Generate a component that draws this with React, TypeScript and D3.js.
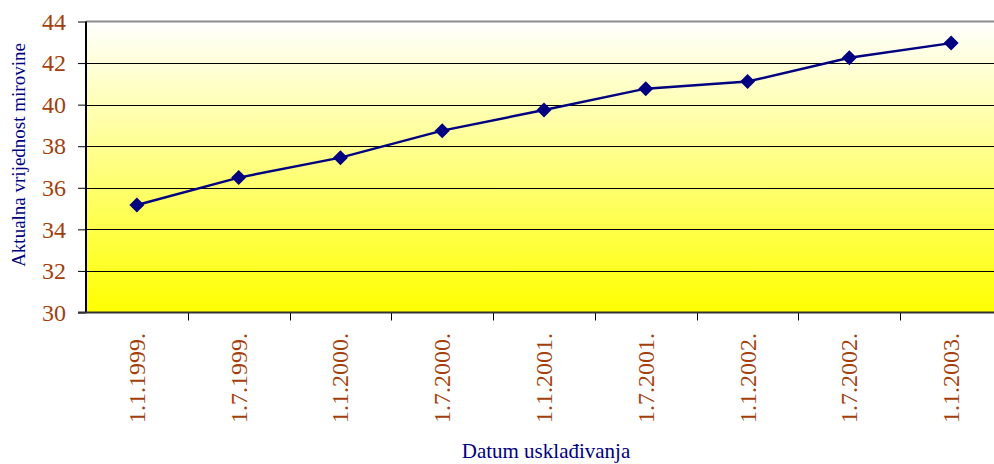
import React, { useEffect, useRef } from 'react';
import * as d3 from 'd3';

// Chart data
const dates = ['1.1.1999.', '1.7.1999.', '1.1.2000.', '1.7.2000.', '1.1.2001.', '1.7.2001.', '1.1.2002.', '1.7.2002.', '1.1.2003.'];
const pensionValues = [35.17, 36.49, 37.45, 38.75, 39.74, 40.77, 41.11, 42.26, 42.96];
const yTicks = [30, 32, 34, 36, 38, 40, 42, 44];

const W = 994;
const H = 464;
const serif = '"Liberation Serif", "Times New Roman", serif';

export default function App() {
  const ref = useRef<SVGSVGElement>(null);

  useEffect(() => {
    const svg = d3.select(ref.current);
    svg.selectAll('*').remove();

    // Plot area (runs past the right edge, like the original)
    const left = 86;
    const right = 1002;
    const top = 21.5;
    const bottom = 312.5;

    const x = d3.scaleBand().domain(dates).range([left, right]);
    const y = d3.scaleLinear().domain([30, 44]).range([bottom, top]);

    // Background gradient
    const grad = svg
      .append('defs')
      .append('linearGradient')
      .attr('id', 'bg')
      .attr('x1', 0)
      .attr('y1', 0)
      .attr('x2', 0)
      .attr('y2', 1);
    grad.append('stop').attr('offset', '0%').attr('stop-color', '#ffffff');
    grad.append('stop').attr('offset', '100%').attr('stop-color', '#ffff00');

    svg
      .append('rect')
      .attr('x', left)
      .attr('y', top)
      .attr('width', right - left)
      .attr('height', bottom - top)
      .attr('fill', 'url(#bg)');

    // Gridlines
    svg
      .append('g')
      .selectAll('line')
      .data(yTicks.filter(d => d > 30 && d < 44))
      .enter()
      .append('line')
      .attr('x1', left)
      .attr('x2', right)
      .attr('y1', d => Math.round(y(d)) + 0.5)
      .attr('y2', d => Math.round(y(d)) + 0.5)
      .attr('stroke', '#000')
      .attr('stroke-width', 1);

    // Top border
    svg
      .append('line')
      .attr('x1', left)
      .attr('x2', right)
      .attr('y1', y(44))
      .attr('y2', y(44))
      .attr('stroke', '#8c8c8c')
      .attr('stroke-width', 2);

    // Y axis
    const yAxis = svg
      .append('g')
      .attr('transform', `translate(${left},0)`)
      .call(d3.axisLeft(y).tickValues(yTicks).tickSize(8).tickPadding(12).tickFormat(d3.format('d')));
    yAxis.select('.domain').remove();
    yAxis.selectAll('line').attr('stroke', '#000');
    yAxis
      .selectAll('text')
      .attr('fill', '#a33f0c')
      .attr('font-family', serif)
      .attr('font-size', 24)
      .style('font-family', serif)
      .style('font-size', '24px');
    svg
      .append('line')
      .attr('x1', left)
      .attr('x2', left)
      .attr('y1', top)
      .attr('y2', bottom)
      .attr('stroke', '#000')
      .attr('stroke-width', 2);

    // X axis
    const ticksX = d3.range(dates.length + 1).map(i => left + i * x.step());
    svg
      .append('g')
      .selectAll('line')
      .data(ticksX.slice(1))
      .enter()
      .append('line')
      .attr('x1', d => Math.round(d) + 0.5)
      .attr('x2', d => Math.round(d) + 0.5)
      .attr('y1', bottom)
      .attr('y2', bottom + 8)
      .attr('stroke', '#000');
    svg
      .append('line')
      .attr('x1', left - 8)
      .attr('x2', right)
      .attr('y1', bottom)
      .attr('y2', bottom)
      .attr('stroke', '#333')
      .attr('stroke-width', 2);

    svg
      .append('g')
      .selectAll('text')
      .data(dates)
      .enter()
      .append('text')
      .attr('transform', d => `translate(${x(d)! + x.bandwidth() / 2 + 8},333) rotate(-90)`)
      .attr('text-anchor', 'end')
      .attr('fill', '#a33f0c')
      .style('font-family', serif)
      .style('font-size', '24px')
      .text(d => d);

    // Line and markers
    const pts = dates.map((d, i) => [x(d)! + x.bandwidth() / 2, y(pensionValues[i])] as [number, number]);
    svg
      .append('path')
      .datum(pts)
      .attr('d', d3.line())
      .attr('fill', 'none')
      .attr('stroke', '#000080')
      .attr('stroke-width', 2.5);

    svg
      .append('g')
      .selectAll('path')
      .data(pts)
      .enter()
      .append('path')
      .attr('transform', d => `translate(${d[0]},${d[1]})`)
      .attr('d', 'M0,-7.5L7.5,0L0,7.5L-7.5,0Z')
      .attr('fill', '#000080');

    // Axis titles
    svg
      .append('text')
      .attr('transform', `translate(25,155) rotate(-90)`)
      .attr('text-anchor', 'middle')
      .attr('fill', '#000080')
      .style('font-family', serif)
      .style('font-size', '19px')
      .text('Aktualna vrijednost mirovine');

    svg
      .append('text')
      .attr('x', 546)
      .attr('y', 458)
      .attr('text-anchor', 'middle')
      .attr('fill', '#000080')
      .style('font-family', serif)
      .style('font-size', '21px')
      .text('Datum usklađivanja');
  }, []);

  return (
    <svg
      ref={ref}
      width={W}
      height={H}
      style={{ position: 'absolute', left: 0, top: 0, background: '#fff' }}
    />
  );
}
